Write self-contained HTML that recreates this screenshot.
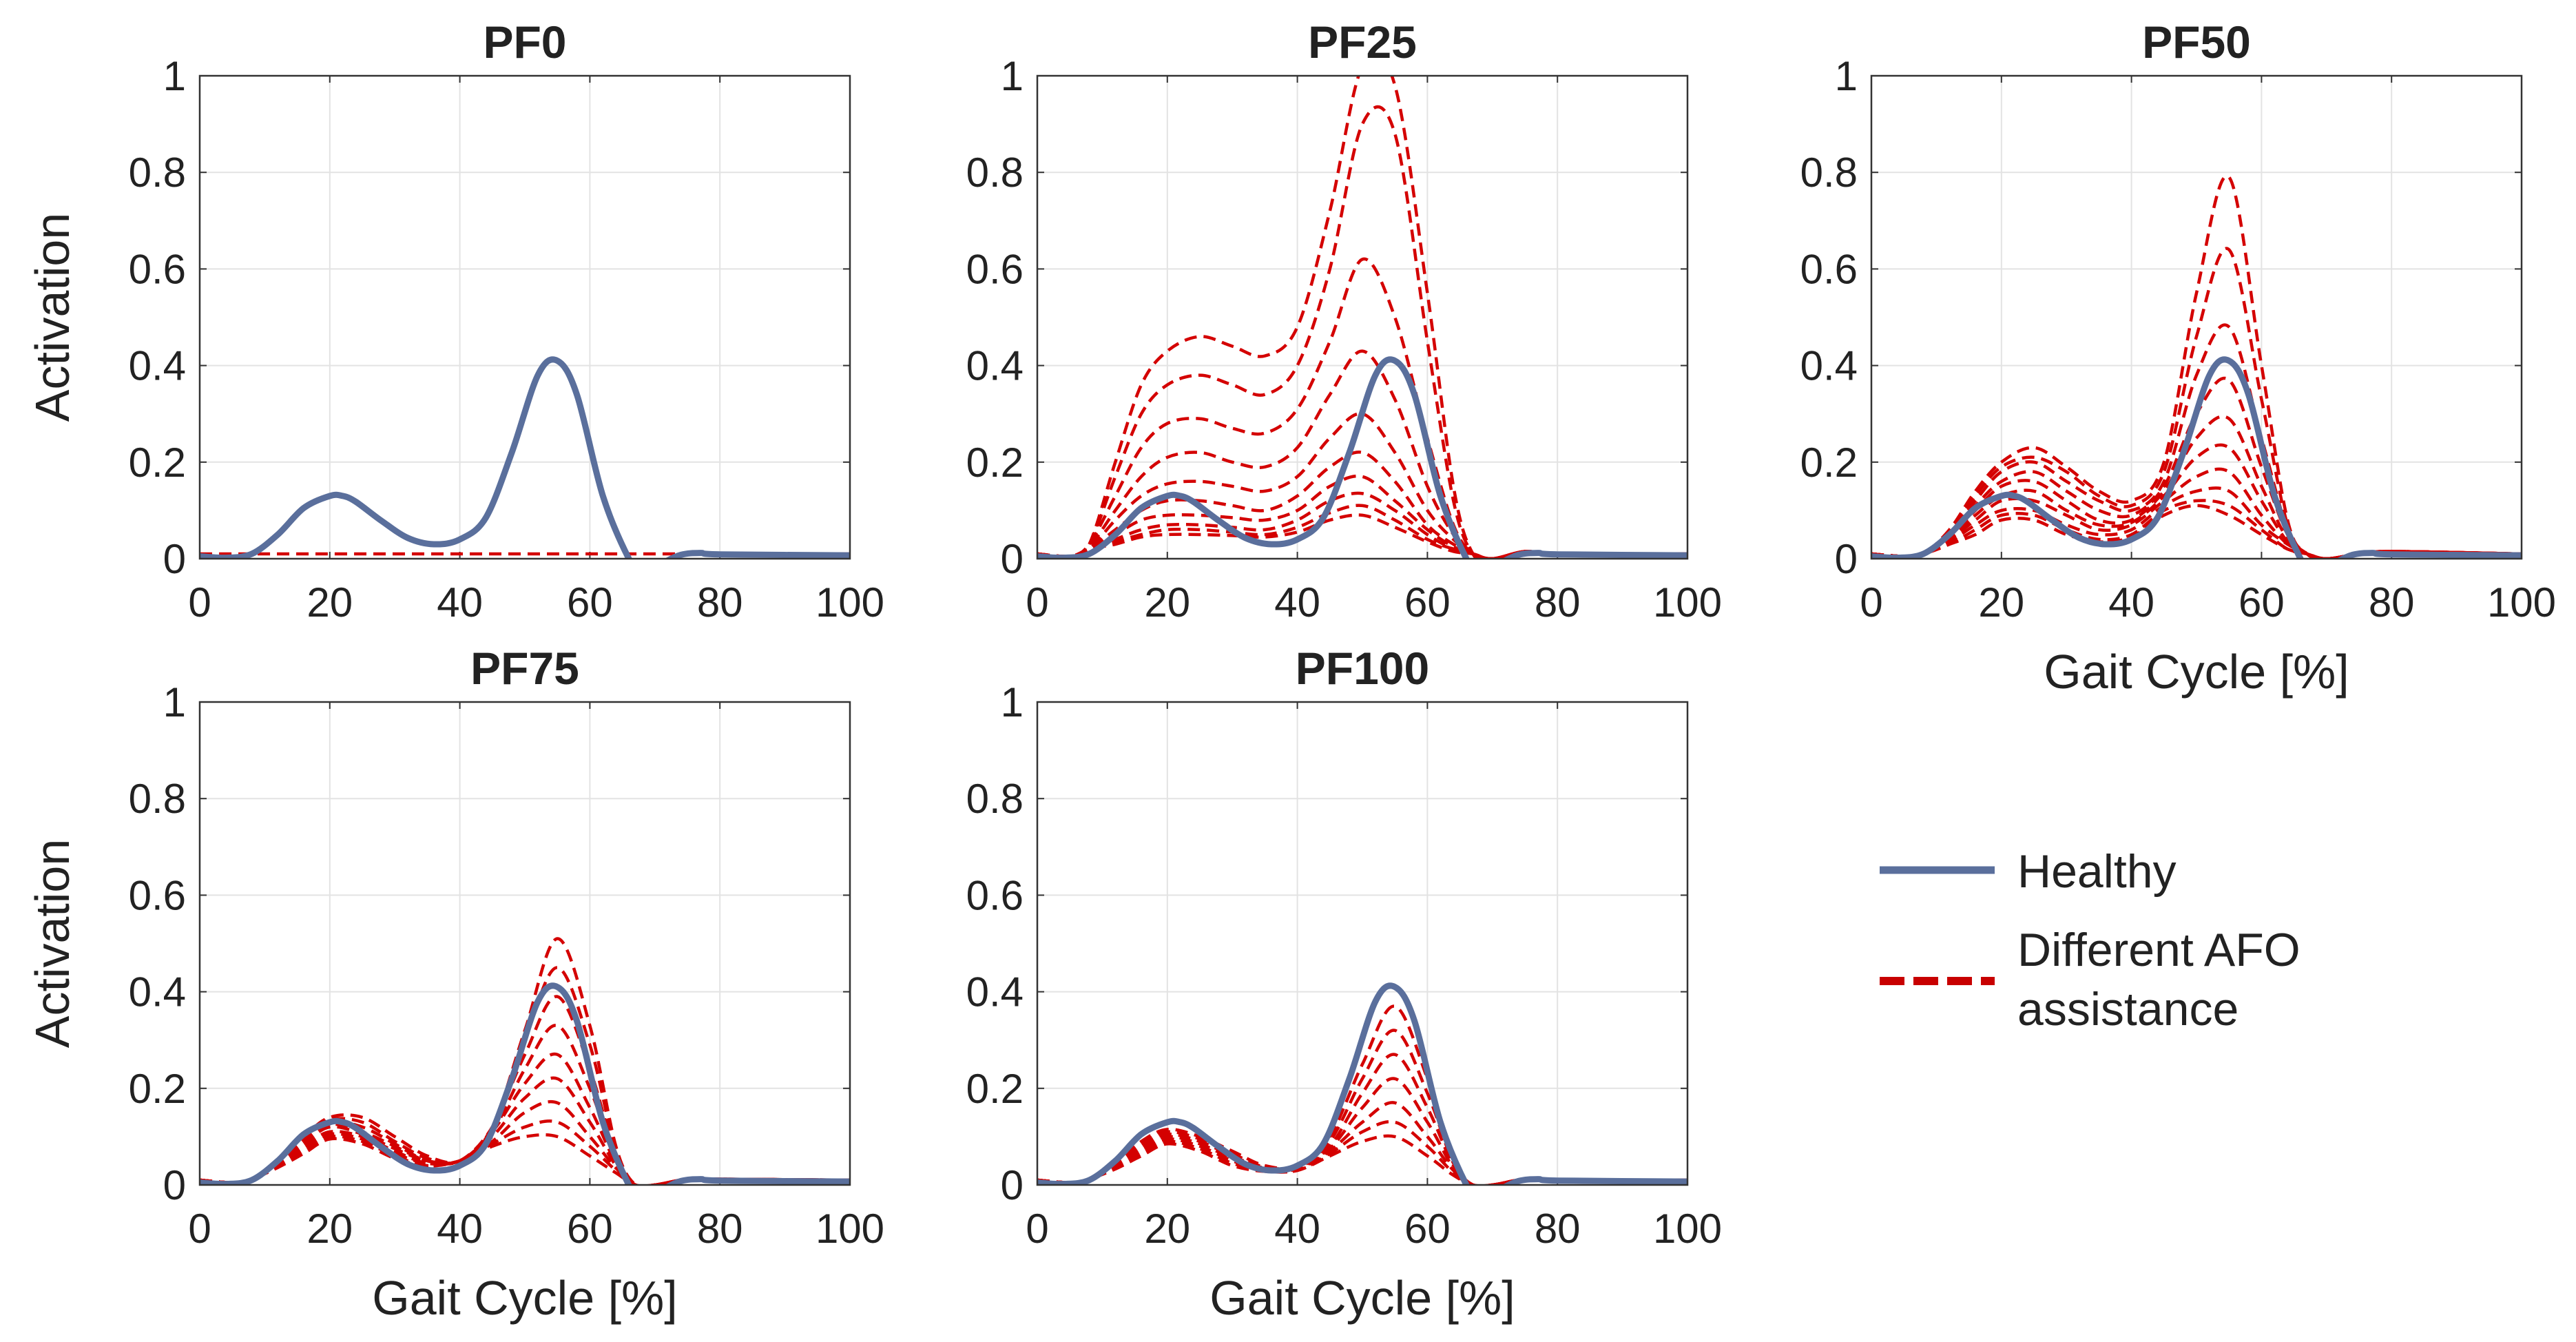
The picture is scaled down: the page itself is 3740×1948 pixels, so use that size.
<!DOCTYPE html>
<html><head><meta charset="utf-8"><style>
html,body{margin:0;padding:0;background:#fff}
svg{display:block}
text{font-family:"Liberation Sans",Arial,sans-serif;fill:#222}
</style></head><body>
<svg id="fig" xmlns="http://www.w3.org/2000/svg" width="3740" height="1948" viewBox="0 0 3740 1948">
<rect x="0" y="0" width="3740" height="1948" fill="#fff"/>
<g id="legend">
  <line x1="2729" y1="1263" x2="2896" y2="1263" stroke="#5a6f9c" stroke-width="11"/>
  <text x="2929" y="1288" font-size="68">Healthy</text>
  <line x1="2729" y1="1424" x2="2896" y2="1424" stroke="#c80000" stroke-width="12" stroke-dasharray="36,13"/>
  <text x="2929" y="1402" font-size="68">Different AFO</text>
  <text x="2929" y="1488" font-size="68">assistance</text>
</g>
</svg>
<script>
// ---- data ----
const xTicks = [0,20,40,60,80,100];
const yTicks = [0,0.2,0.4,0.6,0.8,1];
const yTickLabels = ["0","0.2","0.4","0.6","0.8","1"];
const xTickLabels = ["0","20","40","60","80","100"];
const panelTitles = ["PF0","PF25","PF50","PF75","PF100"];

const healthyX = [0,4,8,12,16,20,22,24,28,32,36,40,44,48,52,55,58,62,66,68,71,74,77,80,100];
const healthyY = [0.005,0.002,0.01,0.05,0.105,0.13,0.13,0.118,0.078,0.043,0.03,0.04,0.085,0.22,0.38,0.41,0.34,0.13,0,-0.03,-0.01,0.008,0.012,0.009,0.007];

const afoX = [0,5,8,12,16,20,25,30,35,40,45,50,55,60,64,67,70,75,80,100];

const pf0Curves = [
 [0.01,0.01,0.01,0.01,0.01,0.01,0.01,0.01,0.01,0.01,0.01,0.01,0.01,0.01,0.01,0.01,0.01,0.01,0.01,0.01]
];
const pf25Curves = [
 [0.01,0.005,0.03,0.2,0.36,0.43,0.46,0.44,0.42,0.48,0.72,1.02,0.98,0.55,0.15,0.01,0,0.015,0.01,0.01],
 [0.01,0.005,0.03,0.17,0.3,0.36,0.38,0.36,0.34,0.4,0.6,0.9,0.88,0.45,0.12,0.01,0,0.015,0.01,0.01],
 [0.01,0.005,0.03,0.13,0.23,0.28,0.29,0.27,0.26,0.31,0.45,0.62,0.5,0.25,0.07,0.01,0,0.015,0.01,0.01],
 [0.01,0.005,0.025,0.1,0.17,0.21,0.22,0.2,0.19,0.23,0.34,0.43,0.33,0.15,0.05,0.01,0,0.015,0.01,0.01],
 [0.01,0.005,0.02,0.08,0.13,0.155,0.16,0.15,0.14,0.17,0.25,0.3,0.22,0.1,0.04,0.01,0,0.015,0.01,0.01],
 [0.01,0.005,0.02,0.06,0.1,0.12,0.12,0.11,0.1,0.13,0.19,0.22,0.16,0.07,0.03,0.01,0,0.015,0.01,0.01],
 [0.01,0.005,0.02,0.05,0.08,0.09,0.09,0.085,0.08,0.1,0.15,0.17,0.12,0.06,0.025,0.01,0,0.015,0.01,0.01],
 [0.01,0.005,0.02,0.04,0.06,0.07,0.07,0.065,0.06,0.08,0.12,0.135,0.1,0.05,0.02,0.01,0,0.015,0.01,0.01],
 [0.01,0.005,0.02,0.035,0.05,0.06,0.06,0.055,0.05,0.065,0.095,0.11,0.08,0.04,0.02,0.01,0,0.015,0.01,0.01],
 [0.01,0.005,0.02,0.03,0.045,0.05,0.05,0.048,0.045,0.055,0.08,0.09,0.065,0.035,0.015,0.01,0,0.015,0.01,0.01]
];
const pf50Curves = [
 [0.01,0.005,0.01,0.06,0.14,0.2,0.23,0.19,0.14,0.12,0.2,0.55,0.79,0.4,0.08,0.01,0,0.01,0.015,0.01],
 [0.01,0.005,0.01,0.055,0.13,0.19,0.21,0.18,0.13,0.11,0.18,0.46,0.64,0.33,0.07,0.01,0,0.01,0.015,0.01],
 [0.01,0.005,0.01,0.05,0.12,0.18,0.2,0.16,0.12,0.1,0.16,0.38,0.48,0.25,0.06,0.01,0,0.01,0.015,0.01],
 [0.01,0.005,0.01,0.05,0.11,0.16,0.18,0.14,0.1,0.09,0.15,0.3,0.37,0.19,0.05,0.01,0,0.01,0.015,0.01],
 [0.01,0.005,0.01,0.045,0.1,0.15,0.16,0.12,0.08,0.08,0.14,0.25,0.29,0.15,0.04,0.01,0,0.01,0.015,0.01],
 [0.01,0.005,0.01,0.04,0.09,0.13,0.14,0.1,0.07,0.075,0.13,0.21,0.23,0.12,0.035,0.01,0,0.01,0.015,0.01],
 [0.01,0.005,0.01,0.04,0.08,0.12,0.12,0.09,0.06,0.07,0.12,0.17,0.18,0.09,0.03,0.01,0,0.01,0.015,0.01],
 [0.01,0.005,0.01,0.035,0.07,0.1,0.1,0.07,0.05,0.06,0.11,0.14,0.14,0.07,0.03,0.01,0,0.01,0.015,0.01],
 [0.01,0.005,0.01,0.03,0.06,0.09,0.09,0.06,0.04,0.05,0.1,0.12,0.11,0.06,0.02,0.01,0,0.01,0.015,0.01],
 [0.01,0.005,0.01,0.03,0.05,0.08,0.08,0.05,0.035,0.045,0.09,0.11,0.09,0.05,0.02,0.01,0,0.01,0.015,0.01]
];
const pf75Curves = [
 [0.01,0.005,0.012,0.05,0.1,0.14,0.14,0.1,0.06,0.05,0.12,0.32,0.51,0.33,0.08,0.0,0,0.012,0.012,0.01],
 [0.01,0.005,0.012,0.05,0.1,0.135,0.13,0.09,0.055,0.05,0.12,0.3,0.45,0.29,0.07,0.0,0,0.012,0.012,0.01],
 [0.01,0.005,0.012,0.048,0.095,0.13,0.12,0.085,0.05,0.05,0.12,0.27,0.39,0.24,0.06,0.0,0,0.012,0.012,0.01],
 [0.01,0.005,0.012,0.046,0.09,0.125,0.11,0.08,0.05,0.05,0.11,0.24,0.33,0.2,0.05,0.0,0,0.012,0.012,0.01],
 [0.01,0.005,0.012,0.044,0.085,0.12,0.105,0.075,0.05,0.05,0.11,0.21,0.27,0.16,0.045,0.0,0,0.012,0.012,0.01],
 [0.01,0.005,0.012,0.042,0.08,0.11,0.1,0.07,0.045,0.05,0.1,0.18,0.22,0.13,0.04,0.0,0,0.012,0.012,0.01],
 [0.01,0.005,0.012,0.04,0.075,0.105,0.095,0.065,0.045,0.05,0.09,0.15,0.17,0.1,0.035,0.0,0,0.012,0.012,0.01],
 [0.01,0.005,0.012,0.038,0.07,0.1,0.09,0.06,0.04,0.05,0.085,0.12,0.13,0.08,0.03,0.0,0,0.012,0.012,0.01],
 [0.01,0.005,0.012,0.036,0.065,0.095,0.085,0.055,0.04,0.05,0.08,0.1,0.1,0.06,0.025,0.0,0,0.012,0.012,0.01]
];
const pf100Curves = [
 [0.01,0.005,0.012,0.045,0.09,0.115,0.1,0.07,0.04,0.04,0.1,0.25,0.37,0.22,0.05,0.0,0,0.012,0.01,0.01],
 [0.01,0.005,0.012,0.043,0.085,0.11,0.095,0.065,0.037,0.04,0.09,0.22,0.32,0.19,0.045,0.0,0,0.012,0.01,0.01],
 [0.01,0.005,0.012,0.041,0.08,0.105,0.09,0.06,0.035,0.037,0.08,0.19,0.27,0.16,0.04,0.0,0,0.012,0.01,0.01],
 [0.01,0.005,0.012,0.039,0.075,0.1,0.085,0.055,0.033,0.035,0.075,0.16,0.22,0.13,0.035,0.0,0,0.012,0.01,0.01],
 [0.01,0.005,0.012,0.037,0.07,0.095,0.08,0.05,0.03,0.033,0.07,0.13,0.17,0.1,0.03,0.0,0,0.012,0.01,0.01],
 [0.01,0.005,0.012,0.035,0.065,0.09,0.075,0.045,0.03,0.03,0.065,0.11,0.13,0.08,0.025,0.0,0,0.012,0.01,0.01],
 [0.01,0.005,0.012,0.033,0.06,0.085,0.07,0.04,0.028,0.03,0.06,0.09,0.1,0.06,0.02,0.0,0,0.012,0.01,0.01]
];
const panelCurves = [pf0Curves,pf25Curves,pf50Curves,pf75Curves,pf100Curves];

// ---- layout ----
const NS = "http://www.w3.org/2000/svg";
const svg = document.getElementById('fig');
const boxes = [
 {l:290,r:1234,t:110,b:811,ylab:true,xlab:false},
 {l:1506,r:2450,t:110,b:811,ylab:false,xlab:false},
 {l:2717,r:3661,t:110,b:811,ylab:false,xlab:true},
 {l:290,r:1234,t:1019,b:1720,ylab:true,xlab:true},
 {l:1506,r:2450,t:1019,b:1720,ylab:false,xlab:true}
];
function mk(tag, attrs, parent){
  const e = document.createElementNS(NS, tag);
  for (const k in attrs) e.setAttribute(k, attrs[k]);
  parent.appendChild(e);
  return e;
}
function smoothPath(pts){
  let d = 'M' + pts[0][0].toFixed(1) + ',' + pts[0][1].toFixed(1);
  for (let i=0;i<pts.length-1;i++){
    const p0 = pts[Math.max(0,i-1)], p1 = pts[i], p2 = pts[i+1], p3 = pts[Math.min(pts.length-1,i+2)];
    const c1x = p1[0] + (p2[0]-p0[0])/6, c1y = p1[1] + (p2[1]-p0[1])/6;
    const c2x = p2[0] - (p3[0]-p1[0])/6, c2y = p2[1] - (p3[1]-p1[1])/6;
    d += ' C' + c1x.toFixed(1)+','+c1y.toFixed(1)+' '+c2x.toFixed(1)+','+c2y.toFixed(1)+' '+p2[0].toFixed(1)+','+p2[1].toFixed(1);
  }
  return d;
}
boxes.forEach((bx, pi) => {
  const sx = v => bx.l + (v/100)*(bx.r-bx.l);
  const sy = v => bx.b - v*(bx.b-bx.t);
  const g = mk('g', {}, svg);
  
  
  const clipId = 'clip' + pi;
  const cp = mk('clipPath', {id: clipId}, g);
  mk('rect', {x: bx.l, y: bx.t, width: bx.r-bx.l, height: bx.b-bx.t}, cp);
  mk('rect', {x: bx.l, y: bx.t, width: bx.r-bx.l, height: bx.b-bx.t, fill: '#fff'}, g);
  // grid
  xTicks.forEach((t, i) => {
    if (i>0 && i<xTicks.length-1){
      const gl = mk('line', {x1: sx(t), x2: sx(t), y1: bx.t, y2: bx.b, stroke: '#e3e3e3', 'stroke-width': 2}, g);
      
      
    }
    const tk1 = mk('line', {x1: sx(t), x2: sx(t), y1: bx.b, y2: bx.b-10, stroke: '#333', 'stroke-width': 2}, g);
    
    
    mk('line', {x1: sx(t), x2: sx(t), y1: bx.t, y2: bx.t+10, stroke: '#333', 'stroke-width': 2}, g);
    const lb = mk('text', {x: sx(t), y: bx.b+84, 'font-size': 60, 'text-anchor': 'middle'}, g);
    lb.textContent = xTickLabels[i];
    
    
  });
  yTicks.forEach((t, i) => {
    if (i>0 && i<yTicks.length-1){
      const gl = mk('line', {x1: bx.l, x2: bx.r, y1: sy(t), y2: sy(t), stroke: '#e3e3e3', 'stroke-width': 2}, g);
      
      
    }
    mk('line', {x1: bx.l, x2: bx.l+10, y1: sy(t), y2: sy(t), stroke: '#333', 'stroke-width': 2}, g);
    mk('line', {x1: bx.r, x2: bx.r-10, y1: sy(t), y2: sy(t), stroke: '#333', 'stroke-width': 2}, g);
    const lb = mk('text', {x: bx.l-20, y: sy(t)+21, 'font-size': 60, 'text-anchor': 'end'}, g);
    lb.textContent = yTickLabels[i];
    
    
  });
  // AFO curves
  const cg = mk('g', {'clip-path': 'url(#' + clipId + ')'}, g);
  panelCurves[pi].forEach((vals, ci) => {
    const pts = afoX.map((x, k) => [sx(x), sy(vals[k])]);
    const p = mk('path', {d: smoothPath(pts), fill: 'none', stroke: '#d40000', 'stroke-width': 4.5, 'stroke-dasharray': '18,10'}, cg);
    
    
  });
  const hp = mk('path', {d: smoothPath(healthyX.map((x,k)=>[sx(x), sy(healthyY[k])])), fill: 'none', stroke: '#5a6f9c', 'stroke-width': 9, 'stroke-linejoin': 'round'}, cg);
  
  
  // frame
  const fr = mk('rect', {x: bx.l, y: bx.t, width: bx.r-bx.l, height: bx.b-bx.t, fill: 'none', stroke: '#333', 'stroke-width': 2.5}, g);
  
  
  // title
  const tt = mk('text', {x: (bx.l+bx.r)/2, y: bx.t-26, 'font-size': 66, 'font-weight': 'bold', 'text-anchor': 'middle', fill: '#000'}, g);
  tt.textContent = panelTitles[pi];
  
  
  if (bx.ylab){
    const cy = (bx.t+bx.b)/2;
    const yl = mk('text', {x: 100, y: cy, 'font-size': 70, 'text-anchor': 'middle', transform: 'rotate(-90 100 ' + cy + ')'}, g);
    yl.textContent = 'Activation';
    
    
  }
  if (bx.xlab){
    const xl = mk('text', {x: (bx.l+bx.r)/2, y: bx.b+188, 'font-size': 70, 'text-anchor': 'middle'}, g);
    xl.textContent = 'Gait Cycle [%]';
    
    
  }
});
</script>
</body></html>
